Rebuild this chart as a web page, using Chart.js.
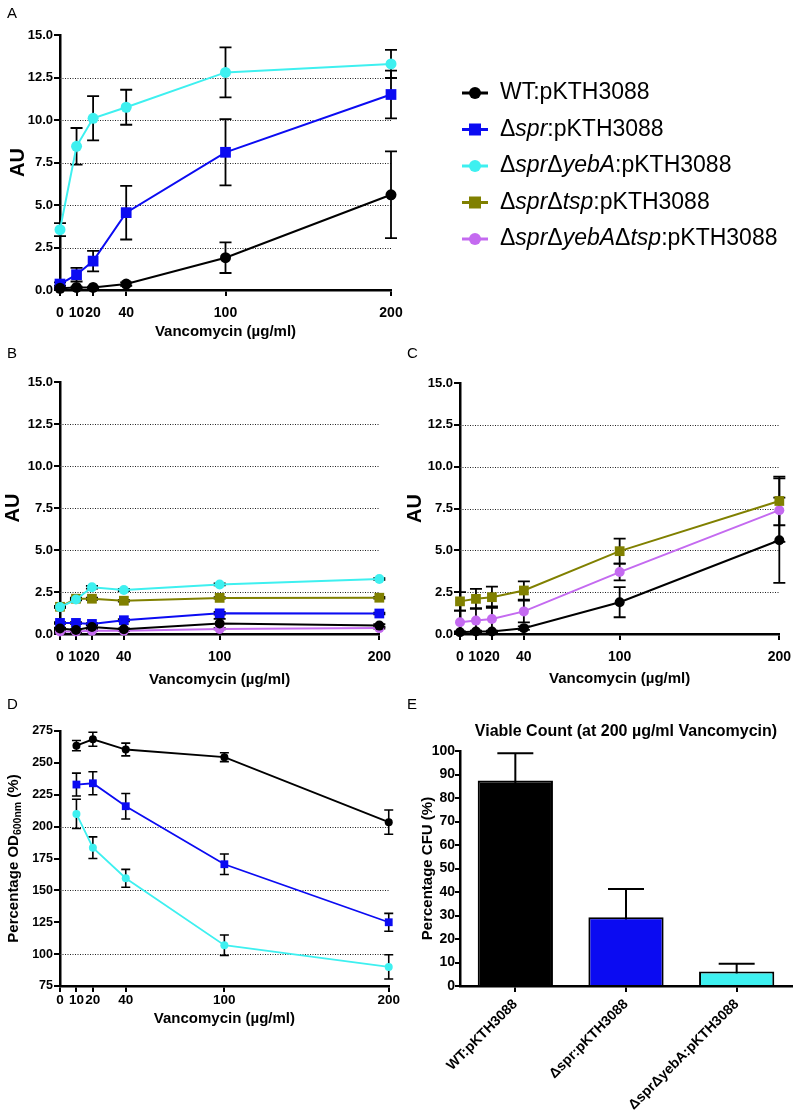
<!DOCTYPE html>
<html>
<head>
<meta charset="utf-8">
<script src="https://cdn.jsdelivr.net/npm/chart.js@4.4.0/dist/chart.umd.min.js"></script>
<style>
  body { margin: 0; width: 800px; height: 1113px; background: #fff; position: relative; overflow: hidden;
         font-family: 'Liberation Sans', Arial, sans-serif; }
  canvas { position: absolute; }
  .lbl { position: absolute; font-size: 15px; line-height: 15px; color: #000; }
</style>
</head>
<body>
<canvas id="cA" width="800" height="345" style="left:0;top:0"></canvas>
<canvas id="cB" width="400" height="355" style="left:0;top:345px"></canvas>
<canvas id="cC" width="400" height="355" style="left:400px;top:345px"></canvas>
<canvas id="cD" width="400" height="413" style="left:0;top:700px"></canvas>
<canvas id="cE" width="400" height="413" style="left:400px;top:700px"></canvas>
<div class="lbl" style="left:7px;top:5px">A</div>
<div class="lbl" style="left:7px;top:345px">B</div>
<div class="lbl" style="left:407px;top:345px">C</div>
<div class="lbl" style="left:7px;top:696px">D</div>
<div class="lbl" style="left:407px;top:696px">E</div>
<script>
const FONT = "'Liberation Sans', Arial, sans-serif";

// x values (vancomycin, µg/ml)
const doses = [0, 10, 20, 40, 100, 200];
const dosesD = [10, 20, 40, 100, 200];
const doseTicks = [0, 10, 20, 40, 100, 200];

const seriesNames = ['WT:pKTH3088', 'Δspr:pKTH3088', 'ΔsprΔyebA:pKTH3088', 'ΔsprΔtsp:pKTH3088', 'ΔsprΔyebAΔtsp:pKTH3088'];
const seriesColors = ['#000000', '#0b0bf2', '#3ef0f0', '#808000', '#c46af0'];
const seriesMarkers = ['circle', 'rect', 'circle', 'rect', 'circle'];

// panel A
const wtA = [0.1, 0.15, 0.15, 0.35, 1.9, 5.6];
const wtAErr = [0.05, 0.05, 0.05, 0.1, 0.9, 2.55];
const sprA = [0.35, 0.9, 1.7, 4.55, 8.1, 11.5];
const sprAErr = [0.1, 0.4, 0.6, 1.58, 1.95, 1.4];
const yebAA = [3.55, 8.45, 10.1, 10.75, 12.8, 13.3];
const yebAAErr = [0.38, 1.08, 1.3, 1.03, 1.47, 0.83];

// panel B
const wtB = [0.33, 0.24, 0.42, 0.28, 0.62, 0.5];
const wtBErr = [0.05, 0.05, 0.08, 0.05, 0.28, 0.08];
const sprB = [0.66, 0.66, 0.6, 0.82, 1.23, 1.22];
const sprBErr = [0.05, 0.05, 0.05, 0.06, 0.08, 0.05];
const yebAB = [1.6, 2.05, 2.78, 2.62, 2.95, 3.27];
const yebABErr = [0.05, 0.05, 0.08, 0.06, 0.06, 0.05];
const tspB = [1.62, 2.1, 2.1, 1.98, 2.15, 2.16];
const tspBErr = [0.05, 0.06, 0.06, 0.05, 0.05, 0.05];
const tripleB = [0.15, 0.15, 0.2, 0.2, 0.3, 0.35];
const tripleBErr = [0.03, 0.03, 0.03, 0.03, 0.03, 0.03];

// panel C (WT repeated from A)
const tspC = [1.95, 2.1, 2.2, 2.6, 4.95, 7.95];
const tspCErr = [0.55, 0.6, 0.63, 0.55, 0.75, 1.45];
const tripleC = [0.7, 0.8, 0.9, 1.35, 3.7, 7.4];
const tripleCErr = [0.7, 0.75, 0.75, 0.65, 0.5, 1.9];

// panel D, percentage OD600nm
const wtD = [263.5, 268.5, 260.5, 254.5, 203.5];
const wtDErr = [4, 5.5, 5, 3.5, 9.5];
const sprD = [233, 234, 216, 170.5, 125];
const sprDErr = [9, 9, 10, 8, 7];
const yebAD = [210, 183.5, 159.5, 107, 90];
const yebADErr = [11.5, 8.5, 7, 8, 9.5];

// panel E, viable count
const strainsE = ['WT:pKTH3088', 'Δspr:pKTH3088', 'ΔsprΔyebA:pKTH3088'];
const cfuE = [87.5, 29.3, 6.2];
const cfuEErr = [11.5, 12, 3.3];

Chart.defaults.font.family = FONT;
Chart.defaults.color = '#000';
Chart.defaults.animation = false;

// draw text made of runs [text, italic, size, dy]
function drawRuns(ctx, runs, x, y) {
    for (const r of runs) {
        ctx.font = `${r.italic ? 'italic ' : ''}${r.bold ? 'bold ' : ''}${r.size}px ${FONT}`;
        ctx.fillText(r.text, x, y + (r.dy || 0));
        x += ctx.measureText(r.text).width;
    }
    return x;
}
function runsWidth(ctx, runs) {
    let w = 0;
    for (const r of runs) {
        ctx.font = `${r.italic ? 'italic ' : ''}${r.bold ? 'bold ' : ''}${r.size}px ${FONT}`;
        w += ctx.measureText(r.text).width;
    }
    return w;
}
function nameRuns(name, size) {
    // gene names in italics
    return name.split(/(spr|yebA|tsp)/).filter(t => t).map(t => ({ text: t, italic: /^(spr|yebA|tsp)$/.test(t), size }));
}

const dottedGrid = {
    id: 'dottedGrid',
    beforeDatasetsDraw(chart, args, opts) {
        if (!opts.values) return;
        const { ctx, chartArea: a, scales: { y } } = chart;
        ctx.save();
        ctx.strokeStyle = '#222';
        ctx.lineWidth = 1;
        ctx.setLineDash([1, 1.5]);
        for (const v of opts.values) {
            const py = Math.round(y.getPixelForValue(v)) + 0.5;
            ctx.beginPath();
            ctx.moveTo(a.left, py);
            ctx.lineTo(a.right, py);
            ctx.stroke();
        }
        ctx.restore();
    }
};

const errorBars = {
    id: 'errorBars',
    beforeDatasetsDraw(chart, args, opts) {
        const { ctx } = chart;
        ctx.save();
        ctx.strokeStyle = '#000';
        ctx.lineWidth = opts.width || 1.5;
        const cap = opts.cap || 6;
        chart.data.datasets.forEach((ds, i) => {
            if (!ds.errors) return;
            const meta = chart.getDatasetMeta(i);
            const ys = chart.scales[meta.yAxisID];
            meta.data.forEach((el, j) => {
                const e = ds.errors[j];
                if (!e) return;
                const d = ds.data[j];
                const v = typeof d === 'object' ? d.y : d;
                const hi = ys.getPixelForValue(v + e);
                const lo = ys.getPixelForValue(v - e);
                const x = el.x;
                ctx.beginPath();
                ctx.moveTo(x, hi); ctx.lineTo(x, lo);
                ctx.moveTo(x - cap, hi); ctx.lineTo(x + cap, hi);
                ctx.moveTo(x - cap, lo); ctx.lineTo(x + cap, lo);
                ctx.stroke();
            });
        });
        ctx.restore();
    }
};

const legendA = {
    id: 'legendA',
    afterDraw(chart) {
        const ctx = chart.ctx;
        ctx.save();
        ctx.textBaseline = 'middle';
        seriesNames.forEach((name, i) => {
            const y = 93 + i * 36.5;
            const c = seriesColors[i];
            ctx.strokeStyle = c;
            ctx.fillStyle = c;
            ctx.lineWidth = 3;
            ctx.beginPath(); ctx.moveTo(462, y); ctx.lineTo(488, y); ctx.stroke();
            ctx.beginPath();
            if (seriesMarkers[i] === 'rect') ctx.rect(469, y - 6, 12, 12);
            else ctx.arc(475, y, 6, 0, Math.PI * 2);
            ctx.fill();
            ctx.fillStyle = '#000';
            drawRuns(ctx, nameRuns(name, 23), 500, y);
        });
        ctx.restore();
    }
};

const odTitle = {
    id: 'odTitle',
    afterDraw(chart) {
        const ctx = chart.ctx;
        const a = chart.chartArea;
        const runs = [
            { text: 'Percentage OD', bold: true, size: 15 },
            { text: '600nm', bold: true, size: 10.5, dy: 4 },
            { text: ' (%)', bold: true, size: 15 }
        ];
        const w = runsWidth(ctx, runs);
        ctx.save();
        ctx.translate(14, (a.top + a.bottom) / 2);
        ctx.rotate(-Math.PI / 2);
        ctx.fillStyle = '#000';
        ctx.textBaseline = 'middle';
        drawRuns(ctx, runs, -w / 2, 0);
        ctx.restore();
    }
};

const cfuTitle = {
    id: 'cfuTitle',
    afterDraw(chart) {
        const ctx = chart.ctx;
        const a = chart.chartArea;
        ctx.save();
        ctx.fillStyle = '#000';
        ctx.font = `bold 16px ${FONT}`;
        ctx.textAlign = 'center';
        ctx.textBaseline = 'middle';
        ctx.fillText('Viable Count (at 200 µg/ml Vancomycin)', (a.left + a.right) / 2, 32);
        ctx.restore();
    }
};

function lineSet(k, xs, ys, errs, r, lw) {
    const c = seriesColors[k];
    return {
        label: seriesNames[k],
        data: xs.map((x, i) => ({ x, y: ys[i] })),
        errors: errs,
        borderColor: c,
        backgroundColor: c,
        pointBackgroundColor: c,
        pointBorderColor: c,
        pointBorderWidth: 0,
        pointStyle: seriesMarkers[k],
        pointRadius: seriesMarkers[k] === 'rect' ? r * 1.38 : r,
        borderWidth: lw || 2,
        tension: 0,
        clip: false
    };
}

function lineAxes(o) {
    return {
        x: {
            type: 'linear', min: 0, max: 200,
            afterBuildTicks: s => { s.ticks = doseTicks.map(value => ({ value })); },
            afterFit: s => { s.height = o.xh; },
            grid: { display: true, drawOnChartArea: false, drawTicks: true, tickLength: 6, color: '#000', lineWidth: 2 },
            border: { display: true, color: '#000', width: 2.5 },
            ticks: { color: '#000', font: { size: o.xf, weight: 'bold' }, padding: o.xp, maxRotation: 0, autoSkip: false, callback: v => v },
            title: { display: true, text: 'Vancomycin (µg/ml)', color: '#000', font: { size: 15, weight: 'bold' }, padding: { top: 0, bottom: o.tp } }
        },
        y: {
            min: o.ymin, max: o.ymax,
            ticks: { stepSize: o.step, color: '#000', font: { size: o.yf, weight: 'bold' }, padding: 1, callback: o.fmt },
            afterFit: s => { s.width = 60; },
            grid: { display: true, drawOnChartArea: false, drawTicks: true, tickLength: 6, color: '#000', lineWidth: 2 },
            border: { display: true, color: '#000', width: 2.5 },
            title: { display: !!o.ytitle, text: o.ytitle, color: '#000', font: { size: 20, weight: 'bold' }, padding: { top: o.ytp || 4, bottom: 0 } }
        }
    };
}

function baseOptions(pad, scales, extra) {
    return {
        responsive: false,
        layout: { autoPadding: false, padding: pad },
        events: [],
        scales,
        plugins: Object.assign({ legend: { display: false }, tooltip: { enabled: false } }, extra)
    };
}

const au = v => v.toFixed(1);

// A
new Chart(document.getElementById('cA'), {
    type: 'line',
    data: { datasets: [
        lineSet(0, doses, wtA, wtAErr, 5.5),
        lineSet(1, doses, sprA, sprAErr, 5.5),
        lineSet(2, doses, yebAA, yebAAErr, 5.5)
    ] },
    options: baseOptions({ left: 0, top: 35, right: 409, bottom: 0 },
        lineAxes({ xh: 55, xf: 14, xp: 9, tp: 4, ymin: 0, ymax: 15, step: 2.5, yf: 13, fmt: au, ytitle: 'AU', ytp: 6 }),
        { dottedGrid: { values: [2.5, 5, 7.5, 10, 12.5] }, errorBars: { cap: 6, width: 1.8 } }),
    plugins: [dottedGrid, errorBars, legendA]
});

// B
new Chart(document.getElementById('cB'), {
    type: 'line',
    data: { datasets: [
        lineSet(0, doses, wtB, wtBErr, 5),
        lineSet(1, doses, sprB, sprBErr, 5),
        lineSet(2, doses, yebAB, yebABErr, 5),
        lineSet(3, doses, tspB, tspBErr, 5),
        lineSet(4, doses, tripleB, tripleBErr, 5)
    ] },
    options: baseOptions({ left: 0, top: 37, right: 10, bottom: 0 },
        lineAxes({ xh: 66, xf: 14, xp: 9, tp: 11, ymin: 0, ymax: 15, step: 2.5, yf: 13, fmt: au, ytitle: 'AU', ytp: 1 }),
        { dottedGrid: { values: [2.5, 5, 7.5, 10, 12.5] }, errorBars: { cap: 6, width: 1.8 } }),
    plugins: [dottedGrid, errorBars]
});

// C
new Chart(document.getElementById('cC'), {
    type: 'line',
    data: { datasets: [
        lineSet(0, doses, wtA, wtAErr, 5),
        lineSet(3, doses, tspC, tspCErr, 5),
        lineSet(4, doses, tripleC, tripleCErr, 5)
    ] },
    options: baseOptions({ left: 0, top: 38, right: 13, bottom: 0 },
        lineAxes({ xh: 66, xf: 14, xp: 9, tp: 12, ymin: 0, ymax: 15, step: 2.5, yf: 13, fmt: au, ytitle: 'AU', ytp: 3 }),
        { dottedGrid: { values: [2.5, 5, 7.5, 10, 12.5] }, errorBars: { cap: 6, width: 1.8 } }),
    plugins: [dottedGrid, errorBars]
});

// D
new Chart(document.getElementById('cD'), {
    type: 'line',
    data: { datasets: [
        lineSet(0, dosesD, wtD, wtDErr, 4, 1.8),
        lineSet(1, dosesD, sprD, sprDErr, 4, 1.8),
        lineSet(2, dosesD, yebAD, yebADErr, 4, 1.8)
    ] },
    options: baseOptions({ left: 0, top: 31, right: 9, bottom: 0 },
        lineAxes({ xh: 127, xf: 13.5, xp: 0, tp: 85, ymin: 75, ymax: 275, step: 25, yf: 12.5, fmt: v => v }),
        { dottedGrid: { values: [100, 150, 200] }, errorBars: { cap: 4.5, width: 1.6 } }),
    plugins: [dottedGrid, errorBars, odTitle]
});

// E
new Chart(document.getElementById('cE'), {
    type: 'bar',
    data: {
        labels: strainsE,
        datasets: [{
            data: cfuE,
            errors: cfuEErr,
            backgroundColor: [seriesColors[0], seriesColors[1], seriesColors[2]],
            borderColor: '#000',
            borderWidth: 2,
            barPercentage: 0.68,
            categoryPercentage: 1
        }]
    },
    options: baseOptions({ left: 0, top: 51, right: 8, bottom: 0 }, {
        x: {
            afterFit: s => { s.height = 127; },
            grid: { display: true, offset: false, drawOnChartArea: false, drawTicks: true, tickLength: 6, color: '#000', lineWidth: 2 },
            border: { display: true, color: '#000', width: 2.5 },
            ticks: { color: '#000', font: { size: 14, weight: 'bold' }, padding: 4, minRotation: 45, maxRotation: 45, autoSkip: false }
        },
        y: {
            min: 0, max: 100,
            ticks: { stepSize: 10, color: '#000', font: { size: 14, weight: 'bold' }, padding: 0 },
            afterFit: s => { s.width = 60; },
            grid: { display: true, drawOnChartArea: false, drawTicks: true, tickLength: 5, color: '#000', lineWidth: 2 },
            border: { display: true, color: '#000', width: 2.5 },
            title: { display: true, text: 'Percentage CFU (%)', color: '#000', font: { size: 15, weight: 'bold' }, padding: { top: 19, bottom: 0 } }
        }
    }, { errorBars: { cap: 18, width: 2 } }),
    plugins: [errorBars, cfuTitle]
});
</script>
</body>
</html>
